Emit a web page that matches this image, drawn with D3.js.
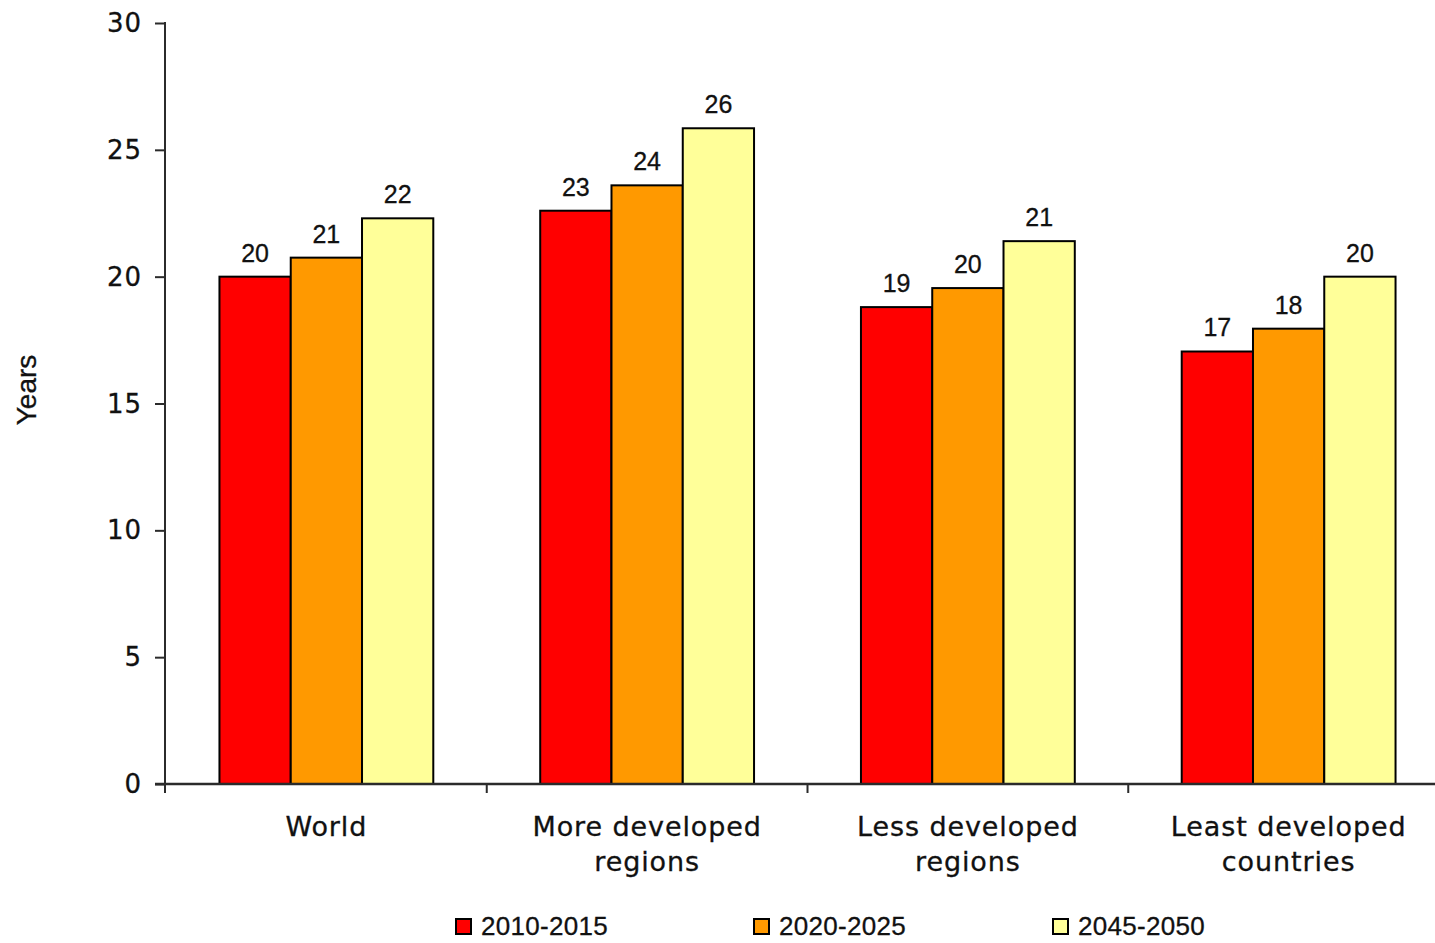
<!DOCTYPE html>
<html>
<head>
<meta charset="utf-8">
<script src="https://cdn.jsdelivr.net/npm/d3@7"></script>
<style>
  html, body { margin: 0; padding: 0; background: #fff; }
  svg { display: block; }
</style>
</head>
<body>
<svg id="chart" width="1435" height="943"></svg>
<script>
const categories = [["World"], ["More developed", "regions"], ["Less developed", "regions"], ["Least developed", "countries"]];
const seriesNames = ["2010-2015", "2020-2025", "2045-2050"];
const seriesColors = ["#FF0000", "#FF9900", "#FFFF99"];
const values2010 = [20.0, 22.6, 18.8, 17.05];
const values2020 = [20.75, 23.6, 19.55, 17.95];
const values2045 = [22.3, 25.85, 21.4, 20.0];
const valueLabels2010 = ["20", "23", "19", "17"];
const valueLabels2020 = ["21", "24", "20", "18"];
const valueLabels2045 = ["22", "26", "21", "20"];
const yTicks = [0, 5, 10, 15, 20, 25, 30];
const yTitle = "Years";

const series = [
  { name: seriesNames[0], color: seriesColors[0], values: values2010, labels: valueLabels2010 },
  { name: seriesNames[1], color: seriesColors[1], values: values2020, labels: valueLabels2020 },
  { name: seriesNames[2], color: seriesColors[2], values: values2045, labels: valueLabels2045 }
];

const svg = d3.select("#chart");
const axisColor = "#2b2b2b";
const textColor = "#111";

const y = d3.scaleLinear().domain([0, 30]).range([784, 23]);
const x0 = d3.scaleBand().domain(d3.range(categories.length)).range([166, 1449]).paddingInner(0).paddingOuter(0);
const bw = x0.bandwidth();
const x1 = d3.scaleBand().domain(d3.range(series.length)).range([bw / 6, bw * 5 / 6]).padding(0);

// Bars
const groups = svg.append("g").selectAll("g")
  .data(categories.map((c, i) => i))
  .join("g")
  .attr("transform", i => `translate(${x0(i)},0)`);

groups.selectAll("rect")
  .data(i => series.map((s, j) => ({ j, v: s.values[i], label: s.labels[i], color: s.color })))
  .join("rect")
  .attr("x", d => x1(d.j))
  .attr("y", d => y(d.v))
  .attr("width", x1.bandwidth())
  .attr("height", d => y(0) - y(d.v))
  .attr("fill", d => d.color)
  .attr("stroke", "#000")
  .attr("stroke-width", 2);

groups.selectAll("text.vl")
  .data(i => series.map((s, j) => ({ j, v: s.values[i], label: s.labels[i] })))
  .join("text")
  .attr("class", "vl")
  .attr("x", d => x1(d.j) + x1.bandwidth() / 2)
  .attr("y", d => y(d.v) - 15)
  .attr("text-anchor", "middle")
  .attr("font-family", "Liberation Sans, Arial, sans-serif")
  .attr("font-size", 25)
  .attr("fill", textColor)
  .attr("stroke", textColor).attr("stroke-width", 0.3)
  .text(d => d.label);

// Y axis
const yAxis = d3.axisLeft(y).tickValues(yTicks).tickSize(10).tickPadding(13).tickFormat(d3.format("d"));
const yg = svg.append("g").attr("transform", "translate(165,0)").call(yAxis);
yg.select(".domain").remove();
yg.selectAll(".tick line").attr("stroke", axisColor).attr("stroke-width", 2);
yg.selectAll(".tick text")
  .attr("font-family", "DejaVu Sans, Verdana, sans-serif")
  .attr("font-size", 26)
  .attr("letter-spacing", 1)
  .attr("fill", textColor)
  .attr("stroke", textColor).attr("stroke-width", 0.3)
  .attr("dy", "0.33em");
svg.append("line")
  .attr("x1", 165).attr("x2", 165)
  .attr("y1", y(30) - 1).attr("y2", y(0) + 9)
  .attr("stroke", axisColor).attr("stroke-width", 2);

// X axis line
svg.append("line")
  .attr("x1", 155).attr("x2", 1435)
  .attr("y1", y(0)).attr("y2", y(0))
  .attr("stroke", axisColor).attr("stroke-width", 2.5);

// Category boundary ticks
svg.append("g").selectAll("line")
  .data(d3.range(1, categories.length + 1))
  .join("line")
  .attr("x1", i => x0.range()[0] + i * bw)
  .attr("x2", i => x0.range()[0] + i * bw)
  .attr("y1", y(0)).attr("y2", y(0) + 9)
  .attr("stroke", axisColor).attr("stroke-width", 2);

// Category labels
const catText = svg.append("g").selectAll("text")
  .data(categories.map((c, i) => ({ c, i })))
  .join("text")
  .attr("x", d => x0(d.i) + bw / 2)
  .attr("y", 836)
  .attr("text-anchor", "middle")
  .attr("font-family", "DejaVu Sans, Verdana, sans-serif")
  .attr("font-size", 27)
  .attr("letter-spacing", 0.9)
  .attr("fill", textColor)
  .attr("stroke", textColor).attr("stroke-width", 0.3);
catText.selectAll("tspan")
  .data(d => d.c.map((t, k) => ({ t, k, x: x0(d.i) + bw / 2 })))
  .join("tspan")
  .attr("x", d => d.x)
  .attr("dy", d => d.k === 0 ? 0 : 35)
  .text(d => d.t);

// Y title
svg.append("text")
  .attr("transform", "translate(36,390) rotate(-90)")
  .attr("text-anchor", "middle")
  .attr("font-family", "Liberation Sans, Arial, sans-serif")
  .attr("font-size", 28)
  .attr("fill", textColor)
  .attr("stroke", textColor).attr("stroke-width", 0.3)
  .text(yTitle);

// Legend
const legendX = [456, 754, 1053];
const lg = svg.append("g").selectAll("g")
  .data(series)
  .join("g")
  .attr("transform", (d, i) => `translate(${legendX[i]},919)`);
lg.append("rect")
  .attr("width", 15).attr("height", 15)
  .attr("fill", d => d.color)
  .attr("stroke", "#000").attr("stroke-width", 2);
lg.append("text")
  .attr("x", 25).attr("y", 16)
  .attr("font-family", "Liberation Sans, Arial, sans-serif")
  .attr("font-size", 26)
  .attr("letter-spacing", 0.3)
  .attr("fill", textColor)
  .attr("stroke", textColor).attr("stroke-width", 0.3)
  .text(d => d.name);
</script>
</body>
</html>
